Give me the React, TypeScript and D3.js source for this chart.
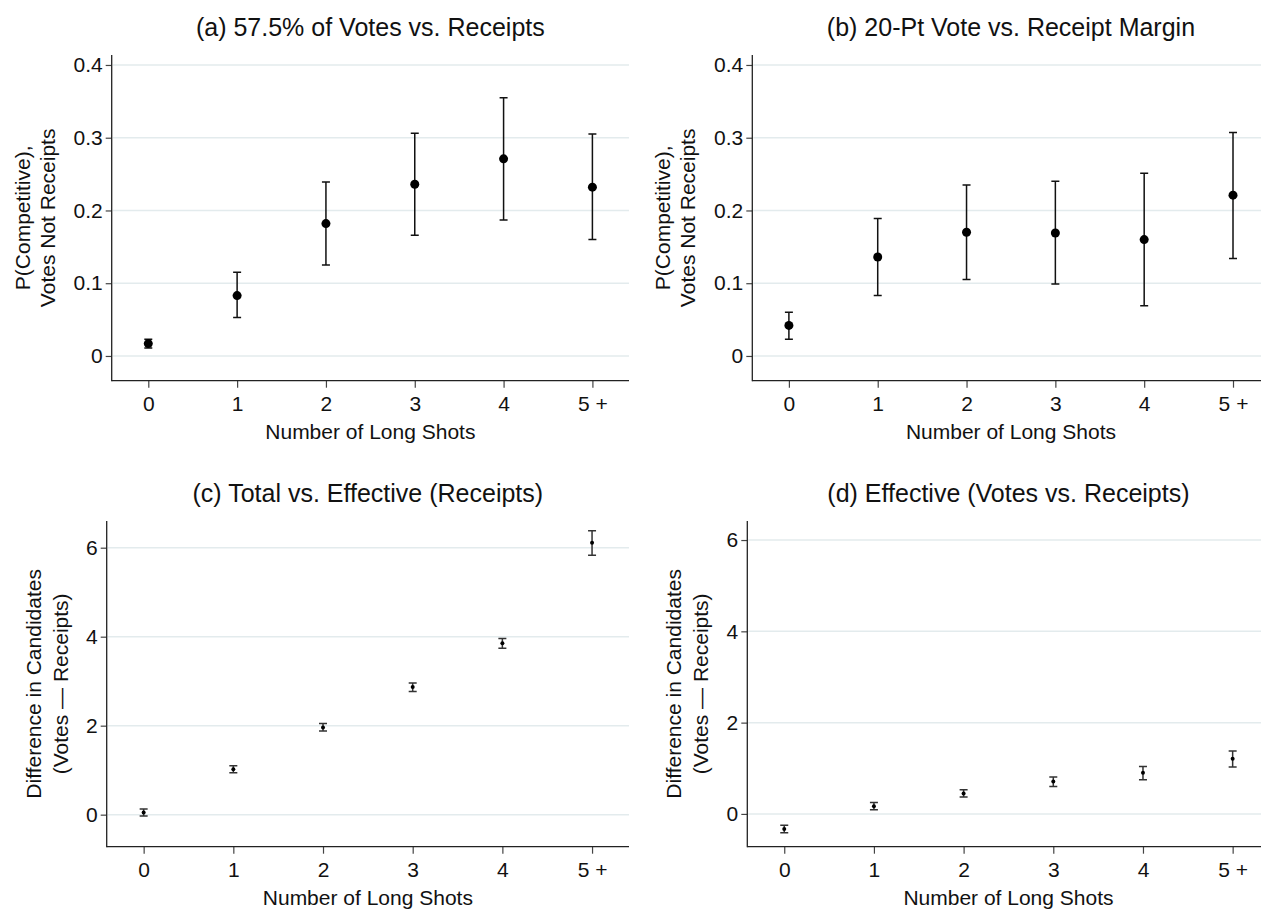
import React, { useEffect, useRef } from 'react';
import * as d3 from 'd3';

const categories = ['0', '1', '2', '3', '4', '5 +'];

// (a) 57.5% of Votes vs. Receipts
const pointsA = [0.017, 0.083, 0.182, 0.236, 0.271, 0.232];
const lowA = [0.011, 0.053, 0.125, 0.166, 0.187, 0.16];
const highA = [0.023, 0.115, 0.239, 0.306, 0.355, 0.305];

// (b) 20-Pt Vote vs. Receipt Margin
const pointsB = [0.042, 0.136, 0.17, 0.169, 0.16, 0.221];
const lowB = [0.023, 0.083, 0.105, 0.099, 0.069, 0.134];
const highB = [0.06, 0.189, 0.235, 0.24, 0.251, 0.307];

// (c) Total vs. Effective (Receipts)
const pointsC = [0.05, 1.02, 1.96, 2.87, 3.85, 6.11];
const lowC = [-0.03, 0.94, 1.88, 2.77, 3.74, 5.83];
const highC = [0.13, 1.1, 2.05, 2.96, 3.96, 6.38];

// (d) Effective (Votes vs. Receipts)
const pointsD = [-0.33, 0.17, 0.45, 0.71, 0.9, 1.21];
const lowD = [-0.41, 0.09, 0.37, 0.6, 0.75, 1.03];
const highD = [-0.25, 0.25, 0.53, 0.81, 1.04, 1.38];

const probTicks = [0, 0.1, 0.2, 0.3, 0.4];
const diffTicks = [0, 2, 4, 6];

const titles = [
  '(a) 57.5% of Votes vs. Receipts',
  '(b) 20-Pt Vote vs. Receipt Margin',
  '(c) Total vs. Effective (Receipts)',
  '(d) Effective (Votes vs. Receipts)'
];
const probLabel = ['P(Competitive),', 'Votes Not Receipts'];
const diffLabel = ['Difference in Candidates', '(Votes \u2014 Receipts)'];
const xLabel = 'Number of Long Shots';

const FONT = "'Liberation Sans', Arial, Helvetica, sans-serif";
const W = 1261;
const H = 909;

const App = () => {
  const svgRef = useRef<SVGSVGElement>(null);

  useEffect(() => {
    if (!svgRef.current) return;
    const svg = d3.select(svgRef.current);
    svg.selectAll('*').remove();

    const panels = [
      { title: titles[0], ylab: probLabel, est: pointsA, lo: lowA, hi: highA, ticks: probTicks, dom: [-0.034, 0.4137], big: true, col: 0, row: 0 },
      { title: titles[1], ylab: probLabel, est: pointsB, lo: lowB, hi: highB, ticks: probTicks, dom: [-0.034, 0.4137], big: true, col: 1, row: 0 },
      { title: titles[2], ylab: diffLabel, est: pointsC, lo: lowC, hi: highC, ticks: diffTicks, dom: [-0.72, 6.6], big: false, col: 0, row: 1 },
      { title: titles[3], ylab: diffLabel, est: pointsD, lo: lowD, hi: highD, ticks: diffTicks, dom: [-0.718, 6.417], big: false, col: 1, row: 1 }
    ];

    panels.forEach(p => {
      const dx = p.col * 640.6;
      const dy = p.row * 466;
      const axisX = (p.big ? 111.7 : 106.7) + dx;
      const right = 629 + dx;
      const top = 55 + dy;
      const bottom = 380.7 + dy;
      const labOff = p.big ? [89.7, 64.7] : [73.4, 46.7];

      const x = d3.scaleLinear().domain([-0.412, 5.412]).range([axisX, right]);
      const y = d3.scaleLinear().domain(p.dom).range([bottom, top]);
      const fmt = (v: number) => (v === 0 ? '0' : p.big ? d3.format('.1f')(v) : String(v));

      const g = svg.append('g');

      // grid lines
      g.selectAll('.grid')
        .data(p.ticks)
        .enter()
        .append('line')
        .attr('x1', axisX + 1)
        .attr('x2', right)
        .attr('y1', d => y(d))
        .attr('y2', d => y(d))
        .attr('stroke', '#e3ebed')
        .attr('stroke-width', 1.5);

      // y axis
      const ya = g.append('g')
        .attr('transform', `translate(${axisX},0)`)
        .call(d3.axisLeft(y).tickValues(p.ticks).tickFormat(fmt as any).tickSize(6).tickSizeOuter(0).tickPadding(3));
      ya.select('.domain').remove();
      ya.selectAll('.tick line').attr('stroke', '#444').attr('stroke-width', 1.2);
      ya.selectAll('.tick text')
        .attr('font-family', FONT)
        .attr('font-size', 21)
        .attr('fill', '#111');

      // x axis
      const xa = g.append('g')
        .attr('transform', `translate(0,${bottom})`)
        .call(d3.axisBottom(x).tickValues(d3.range(categories.length)).tickFormat((d: any) => categories[d]).tickSize(7).tickSizeOuter(0).tickPadding(8));
      xa.select('.domain').remove();
      xa.selectAll('.tick line').attr('stroke', '#444').attr('stroke-width', 1.2);
      xa.selectAll('.tick text')
        .attr('font-family', FONT)
        .attr('font-size', 21)
        .attr('fill', '#111');

      // axis lines
      g.append('line')
        .attr('x1', axisX).attr('x2', axisX)
        .attr('y1', top).attr('y2', bottom + 0.6)
        .attr('stroke', '#222').attr('stroke-width', 1.3);
      g.append('line')
        .attr('x1', axisX).attr('x2', right)
        .attr('y1', bottom).attr('y2', bottom)
        .attr('stroke', '#222').attr('stroke-width', 1.3);

      // error bars
      const cap = 4;
      const barColor = p.big ? '#111' : '#333';
      const idx = d3.range(p.est.length);
      g.selectAll('.ci')
        .data(idx)
        .enter()
        .append('path')
        .attr('d', i => {
          const cx = x(i);
          const y1 = y(p.lo[i]);
          const y2 = y(p.hi[i]);
          return `M${cx - cap},${y2}H${cx + cap}M${cx},${y2}V${y1}M${cx - cap},${y1}H${cx + cap}`;
        })
        .attr('fill', 'none')
        .attr('stroke', barColor)
        .attr('stroke-width', 1.5);

      // points
      g.selectAll('.pt')
        .data(idx)
        .enter()
        .append('circle')
        .attr('cx', i => x(i))
        .attr('cy', i => y(p.est[i]))
        .attr('r', p.big ? 4.5 : 2)
        .attr('fill', '#000');

      // titles
      g.append('text')
        .attr('x', (axisX + right) / 2)
        .attr('y', 27 + dy)
        .attr('dominant-baseline', 'central')
        .attr('text-anchor', 'middle')
        .attr('font-family', FONT)
        .attr('font-size', 25)
        .attr('fill', '#111')
        .text(p.title);

      g.append('text')
        .attr('x', (axisX + right) / 2)
        .attr('y', bottom + 51)
        .attr('dominant-baseline', 'central')
        .attr('text-anchor', 'middle')
        .attr('font-family', FONT)
        .attr('font-size', 21)
        .attr('fill', '#111')
        .text(xLabel);

      p.ylab.forEach((line, k) => {
        const lx = axisX - labOff[k];
        const ly = (top + bottom) / 2;
        g.append('text')
          .attr('transform', `translate(${lx},${ly}) rotate(-90)`)
          .attr('dominant-baseline', 'central')
          .attr('text-anchor', 'middle')
          .attr('font-family', FONT)
          .attr('font-size', 21)
          .attr('fill', '#111')
          .text(line);
      });
    });
  }, []);

  return (
    <div style={{ position: 'absolute', left: 0, top: 0, width: W, height: H, background: '#fff' }}>
      <svg ref={svgRef} width={W} height={H} viewBox={`0 0 ${W} ${H}`} style={{ display: 'block' }} />
    </div>
  );
};

export default App;
